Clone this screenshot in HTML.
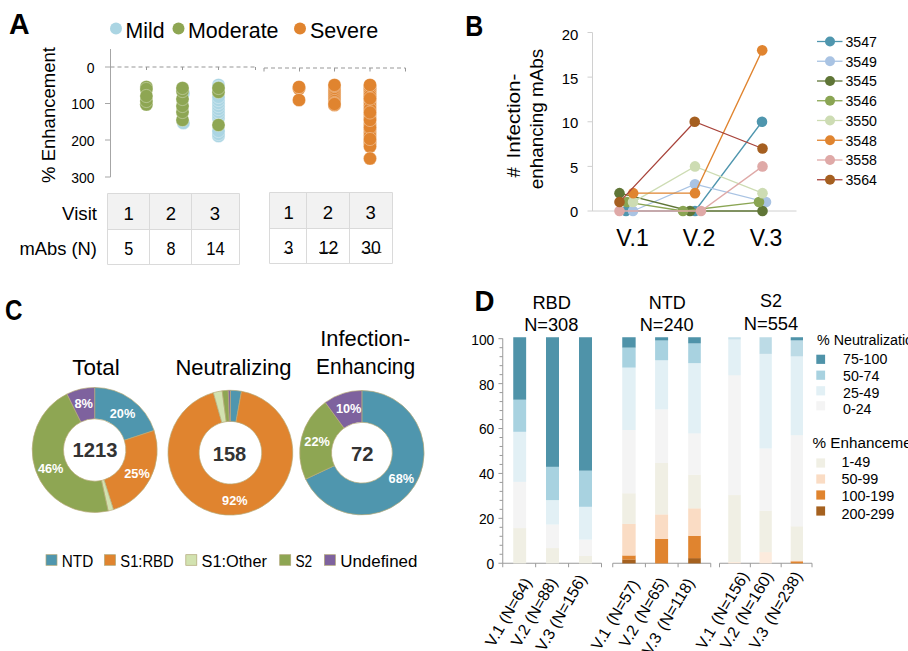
<!DOCTYPE html>
<html><head><meta charset="utf-8"><title>Figure</title>
<style>
html,body{margin:0;padding:0;background:#fff;}
svg{display:block;font-family:'Liberation Sans', sans-serif;}
</style></head>
<body>
<svg width="908" height="651" viewBox="0 0 908 651">
<rect width="908" height="651" fill="#fff"/>
<text x="9.0" y="34.4" font-size="29" text-anchor="start" font-weight="bold" textLength="20.6" lengthAdjust="spacingAndGlyphs">A</text>
<text x="465.3" y="36.2" font-size="29" text-anchor="start" font-weight="bold" textLength="18" lengthAdjust="spacingAndGlyphs">B</text>
<text x="5" y="320.2" font-size="29" text-anchor="start" font-weight="bold" textLength="17.5" lengthAdjust="spacingAndGlyphs">C</text>
<text x="474.5" y="311" font-size="29" text-anchor="start" font-weight="bold" textLength="20" lengthAdjust="spacingAndGlyphs">D</text>
<circle cx="116" cy="28.4" r="6" fill="#abd5e3"/>
<text x="125.6" y="37.6" font-size="21.6" text-anchor="start" textLength="39" lengthAdjust="spacingAndGlyphs">Mild</text>
<circle cx="178.5" cy="28.4" r="6" fill="#8ea653"/>
<text x="188" y="37.6" font-size="21.6" text-anchor="start" textLength="90.5" lengthAdjust="spacingAndGlyphs">Moderate</text>
<circle cx="300" cy="28.4" r="6" fill="#e0842f"/>
<text x="310" y="37.6" font-size="21.6" text-anchor="start" textLength="68.2" lengthAdjust="spacingAndGlyphs">Severe</text>
<text x="54.5" y="183" font-size="18.5" text-anchor="start" textLength="136" lengthAdjust="spacingAndGlyphs" transform="rotate(-90 54.5 183)">% Enhancement</text>
<path d="M110.5 49V177M105 67H110.5M105 103.5H110.5M105 140H110.5M105 177H110.5" stroke="#a6a6a6" stroke-width="1" fill="none"/>
<text x="94.6" y="72.8" font-size="15" text-anchor="end" textLength="7.8" lengthAdjust="spacingAndGlyphs">0</text>
<text x="94.6" y="109.3" font-size="15" text-anchor="end" textLength="23.3" lengthAdjust="spacingAndGlyphs">100</text>
<text x="94.6" y="145.8" font-size="15" text-anchor="end" textLength="23.3" lengthAdjust="spacingAndGlyphs">200</text>
<text x="94.6" y="182.8" font-size="15" text-anchor="end" textLength="23.3" lengthAdjust="spacingAndGlyphs">300</text>
<path d="M110.5 67H255.5" stroke="#979797" stroke-width="1" stroke-dasharray="4 3" fill="none"/>
<path d="M146.5 67v3M182.5 67v3M218.5 67v3M255.5 67v3" stroke="#979797" stroke-width="1" fill="none"/>
<path d="M264 68H405.5" stroke="#979797" stroke-width="1" stroke-dasharray="4 3" fill="none"/>
<path d="M264 68v3.5M299.5 68v3.5M334.5 68v3.5M370 68v3.5M405.5 68v3.5" stroke="#979797" stroke-width="1" fill="none"/>
<circle cx="146.4" cy="87" r="6.6" fill="#8ea653" stroke="#fff" stroke-width="0.6" stroke-opacity="0.55"/>
<circle cx="146.4" cy="89" r="6.6" fill="#8ea653" stroke="#fff" stroke-width="0.6" stroke-opacity="0.55"/>
<circle cx="146.4" cy="104.5" r="6.6" fill="#8ea653" stroke="#fff" stroke-width="0.6" stroke-opacity="0.55"/>
<circle cx="146.4" cy="101" r="6.6" fill="#8ea653" stroke="#fff" stroke-width="0.6" stroke-opacity="0.55"/>
<circle cx="146.4" cy="96" r="6.6" fill="#8ea653" stroke="#fff" stroke-width="0.6" stroke-opacity="0.55"/>
<circle cx="183.4" cy="93" r="6.6" fill="#abd5e3" stroke="#fff" stroke-width="0.6" stroke-opacity="0.55"/>
<circle cx="183.4" cy="123" r="6.6" fill="#abd5e3" stroke="#fff" stroke-width="0.6" stroke-opacity="0.55"/>
<circle cx="182.5" cy="120" r="6.6" fill="#8ea653" stroke="#fff" stroke-width="0.6" stroke-opacity="0.55"/>
<circle cx="182.5" cy="112" r="6.6" fill="#8ea653" stroke="#fff" stroke-width="0.6" stroke-opacity="0.55"/>
<circle cx="182.5" cy="106" r="6.6" fill="#8ea653" stroke="#fff" stroke-width="0.6" stroke-opacity="0.55"/>
<circle cx="182.5" cy="99" r="6.6" fill="#8ea653" stroke="#fff" stroke-width="0.6" stroke-opacity="0.55"/>
<circle cx="182.5" cy="91" r="6.6" fill="#8ea653" stroke="#fff" stroke-width="0.6" stroke-opacity="0.55"/>
<circle cx="182.5" cy="88" r="6.6" fill="#8ea653" stroke="#fff" stroke-width="0.6" stroke-opacity="0.55"/>
<circle cx="218.5" cy="85" r="6.6" fill="#abd5e3" stroke="#fff" stroke-width="0.6" stroke-opacity="0.55"/>
<circle cx="218.5" cy="87" r="6.6" fill="#abd5e3" stroke="#fff" stroke-width="0.6" stroke-opacity="0.55"/>
<circle cx="218.5" cy="136" r="6.6" fill="#abd5e3" stroke="#fff" stroke-width="0.6" stroke-opacity="0.55"/>
<circle cx="218.5" cy="134" r="6.6" fill="#abd5e3" stroke="#fff" stroke-width="0.6" stroke-opacity="0.55"/>
<circle cx="218.5" cy="131" r="6.6" fill="#abd5e3" stroke="#fff" stroke-width="0.6" stroke-opacity="0.55"/>
<circle cx="218.5" cy="118" r="6.6" fill="#abd5e3" stroke="#fff" stroke-width="0.6" stroke-opacity="0.55"/>
<circle cx="218.5" cy="115" r="6.6" fill="#abd5e3" stroke="#fff" stroke-width="0.6" stroke-opacity="0.55"/>
<circle cx="218.5" cy="112" r="6.6" fill="#abd5e3" stroke="#fff" stroke-width="0.6" stroke-opacity="0.55"/>
<circle cx="218.5" cy="109" r="6.6" fill="#abd5e3" stroke="#fff" stroke-width="0.6" stroke-opacity="0.55"/>
<circle cx="218.5" cy="106" r="6.6" fill="#abd5e3" stroke="#fff" stroke-width="0.6" stroke-opacity="0.55"/>
<circle cx="218.5" cy="103" r="6.6" fill="#abd5e3" stroke="#fff" stroke-width="0.6" stroke-opacity="0.55"/>
<circle cx="218.5" cy="100" r="6.6" fill="#abd5e3" stroke="#fff" stroke-width="0.6" stroke-opacity="0.55"/>
<circle cx="218.5" cy="97" r="6.6" fill="#abd5e3" stroke="#fff" stroke-width="0.6" stroke-opacity="0.55"/>
<circle cx="218.5" cy="92" r="6.6" fill="#8ea653" stroke="#fff" stroke-width="0.6" stroke-opacity="0.55"/>
<circle cx="218.5" cy="88" r="6.6" fill="#8ea653" stroke="#fff" stroke-width="0.6" stroke-opacity="0.55"/>
<circle cx="218.5" cy="125" r="6.6" fill="#8ea653" stroke="#fff" stroke-width="0.6" stroke-opacity="0.55"/>
<circle cx="299" cy="88.5" r="6.6" fill="#e0842f" stroke="#fff" stroke-width="0.6" stroke-opacity="0.55"/>
<circle cx="299" cy="87" r="6.6" fill="#e0842f" stroke="#fff" stroke-width="0.6" stroke-opacity="0.55"/>
<circle cx="299" cy="100" r="6.6" fill="#e0842f" stroke="#fff" stroke-width="0.6" stroke-opacity="0.55"/>
<circle cx="334.5" cy="87" r="6.6" fill="#e0842f" stroke="#fff" stroke-width="0.6" stroke-opacity="0.55"/>
<circle cx="334.5" cy="89" r="6.6" fill="#e0842f" stroke="#fff" stroke-width="0.6" stroke-opacity="0.55"/>
<circle cx="334.5" cy="91" r="6.6" fill="#e0842f" stroke="#fff" stroke-width="0.6" stroke-opacity="0.55"/>
<circle cx="334.5" cy="93" r="6.6" fill="#e0842f" stroke="#fff" stroke-width="0.6" stroke-opacity="0.55"/>
<circle cx="334.5" cy="95" r="6.6" fill="#e0842f" stroke="#fff" stroke-width="0.6" stroke-opacity="0.55"/>
<circle cx="334.5" cy="97" r="6.6" fill="#e0842f" stroke="#fff" stroke-width="0.6" stroke-opacity="0.55"/>
<circle cx="334.5" cy="99" r="6.6" fill="#e0842f" stroke="#fff" stroke-width="0.6" stroke-opacity="0.55"/>
<circle cx="334.5" cy="101" r="6.6" fill="#e0842f" stroke="#fff" stroke-width="0.6" stroke-opacity="0.55"/>
<circle cx="334.5" cy="103" r="6.6" fill="#e0842f" stroke="#fff" stroke-width="0.6" stroke-opacity="0.55"/>
<circle cx="334.5" cy="105" r="6.6" fill="#e0842f" stroke="#fff" stroke-width="0.6" stroke-opacity="0.55"/>
<circle cx="334.5" cy="104" r="6.6" fill="#e0842f" stroke="#fff" stroke-width="0.6" stroke-opacity="0.55"/>
<circle cx="334.5" cy="85" r="6.6" fill="#e0842f" stroke="#fff" stroke-width="0.6" stroke-opacity="0.55"/>
<circle cx="370" cy="86" r="6.6" fill="#e0842f" stroke="#fff" stroke-width="0.6" stroke-opacity="0.55"/>
<circle cx="370" cy="87" r="6.6" fill="#e0842f" stroke="#fff" stroke-width="0.6" stroke-opacity="0.55"/>
<circle cx="370" cy="88" r="6.6" fill="#e0842f" stroke="#fff" stroke-width="0.6" stroke-opacity="0.55"/>
<circle cx="370" cy="89" r="6.6" fill="#e0842f" stroke="#fff" stroke-width="0.6" stroke-opacity="0.55"/>
<circle cx="370" cy="90" r="6.6" fill="#e0842f" stroke="#fff" stroke-width="0.6" stroke-opacity="0.55"/>
<circle cx="370" cy="92" r="6.6" fill="#e0842f" stroke="#fff" stroke-width="0.6" stroke-opacity="0.55"/>
<circle cx="370" cy="94" r="6.6" fill="#e0842f" stroke="#fff" stroke-width="0.6" stroke-opacity="0.55"/>
<circle cx="370" cy="96" r="6.6" fill="#e0842f" stroke="#fff" stroke-width="0.6" stroke-opacity="0.55"/>
<circle cx="370" cy="100" r="6.6" fill="#e0842f" stroke="#fff" stroke-width="0.6" stroke-opacity="0.55"/>
<circle cx="370" cy="103" r="6.6" fill="#e0842f" stroke="#fff" stroke-width="0.6" stroke-opacity="0.55"/>
<circle cx="370" cy="106" r="6.6" fill="#e0842f" stroke="#fff" stroke-width="0.6" stroke-opacity="0.55"/>
<circle cx="370" cy="109" r="6.6" fill="#e0842f" stroke="#fff" stroke-width="0.6" stroke-opacity="0.55"/>
<circle cx="370" cy="115" r="6.6" fill="#e0842f" stroke="#fff" stroke-width="0.6" stroke-opacity="0.55"/>
<circle cx="370" cy="118" r="6.6" fill="#e0842f" stroke="#fff" stroke-width="0.6" stroke-opacity="0.55"/>
<circle cx="370" cy="124" r="6.6" fill="#e0842f" stroke="#fff" stroke-width="0.6" stroke-opacity="0.55"/>
<circle cx="370" cy="130" r="6.6" fill="#e0842f" stroke="#fff" stroke-width="0.6" stroke-opacity="0.55"/>
<circle cx="370" cy="133" r="6.6" fill="#e0842f" stroke="#fff" stroke-width="0.6" stroke-opacity="0.55"/>
<circle cx="370" cy="136" r="6.6" fill="#e0842f" stroke="#fff" stroke-width="0.6" stroke-opacity="0.55"/>
<circle cx="370" cy="141" r="6.6" fill="#e0842f" stroke="#fff" stroke-width="0.6" stroke-opacity="0.55"/>
<circle cx="370" cy="143" r="6.6" fill="#e0842f" stroke="#fff" stroke-width="0.6" stroke-opacity="0.55"/>
<circle cx="370" cy="146.5" r="6.6" fill="#e0842f" stroke="#fff" stroke-width="0.6" stroke-opacity="0.55"/>
<circle cx="370" cy="127.5" r="6.6" fill="#e0842f" stroke="#fff" stroke-width="0.6" stroke-opacity="0.55"/>
<circle cx="370" cy="120" r="6.6" fill="#e0842f" stroke="#fff" stroke-width="0.6" stroke-opacity="0.55"/>
<circle cx="370" cy="112.5" r="6.6" fill="#e0842f" stroke="#fff" stroke-width="0.6" stroke-opacity="0.55"/>
<circle cx="370" cy="139" r="6.6" fill="#e0842f" stroke="#fff" stroke-width="0.6" stroke-opacity="0.55"/>
<circle cx="370" cy="98.5" r="6.6" fill="#e0842f" stroke="#fff" stroke-width="0.6" stroke-opacity="0.55"/>
<circle cx="370" cy="85" r="6.6" fill="#e0842f" stroke="#fff" stroke-width="0.6" stroke-opacity="0.55"/>
<circle cx="370" cy="158.5" r="6.6" fill="#e0842f" stroke="#fff" stroke-width="0.6" stroke-opacity="0.55"/>
<rect x="107.5" y="193.5" width="132" height="36" fill="#f2f2f2"/>
<path d="M107.5 193.5H239.5V264.5H107.5ZM107.5 229.5H239.5M149.5 193.5V264.5M191.5 193.5V264.5" stroke="#dadada" stroke-width="1" fill="none"/>
<rect x="269.5" y="192.5" width="123" height="36" fill="#f2f2f2"/>
<path d="M269.5 192.5H392.5V263.5H269.5ZM269.5 228.5H392.5M306.5 192.5V263.5M349.5 192.5V263.5" stroke="#dadada" stroke-width="1" fill="none"/>
<text x="97" y="220.3" font-size="18.5" text-anchor="end" textLength="35" lengthAdjust="spacingAndGlyphs">Visit</text>
<text x="97" y="255.3" font-size="18.5" text-anchor="end" textLength="77.5" lengthAdjust="spacingAndGlyphs">mAbs (N)</text>
<text x="128.7" y="220.3" font-size="18.5" text-anchor="middle">1</text>
<text x="171" y="220.3" font-size="18.5" text-anchor="middle">2</text>
<text x="215" y="220.3" font-size="18.5" text-anchor="middle">3</text>
<text x="128.7" y="255.3" font-size="18.5" text-anchor="middle" textLength="9" lengthAdjust="spacingAndGlyphs">5</text>
<text x="171" y="255.3" font-size="18.5" text-anchor="middle" textLength="9" lengthAdjust="spacingAndGlyphs">8</text>
<text x="215.5" y="255.3" font-size="18.5" text-anchor="middle" textLength="18.5" lengthAdjust="spacingAndGlyphs">14</text>
<text x="288.7" y="219" font-size="18.5" text-anchor="middle">1</text>
<text x="328" y="219" font-size="18.5" text-anchor="middle">2</text>
<text x="370.7" y="219" font-size="18.5" text-anchor="middle">3</text>
<text x="288.7" y="254" font-size="18.5" text-anchor="middle" textLength="9" lengthAdjust="spacingAndGlyphs">3</text>
<text x="328.5" y="254" font-size="18.5" text-anchor="middle" textLength="19.5" lengthAdjust="spacingAndGlyphs">12</text>
<text x="371" y="254" font-size="18.5" text-anchor="middle" textLength="19.5" lengthAdjust="spacingAndGlyphs">30</text>
<path d="M283.8 252.4H293M319 252.4H338.4M361.6 252.4H381.4" stroke="#1a1a1a" stroke-width="0.9" fill="none"/>
<path d="M592.5 32.5V211M587.5 211H796.5" stroke="#d0d0d0" stroke-width="1" fill="none"/>
<path d="M587.5 166.38H592.5M587.5 121.75H592.5M587.5 77.12H592.5M587.5 32.5H592.5" stroke="#d0d0d0" stroke-width="1" fill="none"/>
<text x="578.3" y="217.4" font-size="14.8" text-anchor="end" textLength="8.2" lengthAdjust="spacingAndGlyphs">0</text>
<text x="578.3" y="172.88" font-size="14.8" text-anchor="end" textLength="8.2" lengthAdjust="spacingAndGlyphs">5</text>
<text x="578.3" y="127.95" font-size="14.8" text-anchor="end" textLength="16.6" lengthAdjust="spacingAndGlyphs">10</text>
<text x="578.3" y="84.42" font-size="14.8" text-anchor="end" textLength="16.6" lengthAdjust="spacingAndGlyphs">15</text>
<text x="578.3" y="39.5" font-size="14.8" text-anchor="end" textLength="16.6" lengthAdjust="spacingAndGlyphs">20</text>
<text x="519.8" y="177.4" font-size="18.5" text-anchor="start" transform="rotate(-90 519.8 177.4)">#</text>
<text x="519.8" y="158.5" font-size="18.5" text-anchor="start" textLength="85" lengthAdjust="spacingAndGlyphs" transform="rotate(-90 519.8 158.5)">Infection-</text>
<text x="543.3" y="189.3" font-size="18.5" text-anchor="start" textLength="140.5" lengthAdjust="spacingAndGlyphs" transform="rotate(-90 543.3 189.3)">enhancing mAbs</text>
<text x="632.5" y="246.3" font-size="23" text-anchor="middle">V.1</text>
<text x="699" y="246.3" font-size="23" text-anchor="middle">V.2</text>
<text x="766" y="246.3" font-size="23" text-anchor="middle">V.3</text>
<path d="M626 211.0L695 211.0L762 121.75" stroke="#4f96ae" stroke-width="1.3" fill="none"/>
<circle cx="626" cy="211.0" r="5.3" fill="#4f96ae"/>
<circle cx="695" cy="211.0" r="5.3" fill="#4f96ae"/>
<circle cx="762" cy="121.75" r="5.3" fill="#4f96ae"/>
<path d="M633 211.0L695 184.22L766 202.07" stroke="#a9c3e3" stroke-width="1.3" fill="none"/>
<circle cx="633" cy="211.0" r="5.3" fill="#a9c3e3"/>
<circle cx="695" cy="184.22" r="5.3" fill="#a9c3e3"/>
<circle cx="766" cy="202.07" r="5.3" fill="#a9c3e3"/>
<path d="M619.5 193.15L690 211.0L762.5 211.0" stroke="#5f7536" stroke-width="1.3" fill="none"/>
<circle cx="619.5" cy="193.15" r="5.3" fill="#5f7536"/>
<circle cx="690" cy="211.0" r="5.3" fill="#5f7536"/>
<circle cx="762.5" cy="211.0" r="5.3" fill="#5f7536"/>
<path d="M627 202.07L683 211.0L759 202.07" stroke="#8aa553" stroke-width="1.3" fill="none"/>
<circle cx="627" cy="202.07" r="5.3" fill="#8aa553"/>
<circle cx="683" cy="211.0" r="5.3" fill="#8aa553"/>
<circle cx="759" cy="202.07" r="5.3" fill="#8aa553"/>
<path d="M633 202.07L695 166.38L762.5 193.15" stroke="#cddcb3" stroke-width="1.3" fill="none"/>
<circle cx="633" cy="202.07" r="5.3" fill="#cddcb3"/>
<circle cx="695" cy="166.38" r="5.3" fill="#cddcb3"/>
<circle cx="762.5" cy="193.15" r="5.3" fill="#cddcb3"/>
<path d="M633.2 193.15L695 193.15L762.2 50.35" stroke="#e0842f" stroke-width="1.3" fill="none"/>
<circle cx="633.2" cy="193.15" r="5.3" fill="#e0842f"/>
<circle cx="695" cy="193.15" r="5.3" fill="#e0842f"/>
<circle cx="762.2" cy="50.35" r="5.3" fill="#e0842f"/>
<path d="M619.5 211.0L701 211.0L762.5 166.38" stroke="#dfa9a7" stroke-width="1.3" fill="none"/>
<circle cx="619.5" cy="211.0" r="5.3" fill="#dfa9a7"/>
<circle cx="701" cy="211.0" r="5.3" fill="#dfa9a7"/>
<circle cx="762.5" cy="166.38" r="5.3" fill="#dfa9a7"/>
<path d="M619.5 202.07L694.7 121.75L762.5 148.52" stroke="#a8433a" stroke-width="1.3" fill="none"/>
<circle cx="619.5" cy="202.07" r="5.3" fill="#a55f20"/>
<circle cx="694.7" cy="121.75" r="5.3" fill="#a55f20"/>
<circle cx="762.5" cy="148.52" r="5.3" fill="#a55f20"/>
<path d="M817 41.5H842.5" stroke="#4f96ae" stroke-width="1.3"/>
<circle cx="830" cy="41.5" r="5" fill="#4f96ae"/>
<text x="845.5" y="46.8" font-size="15" text-anchor="start" textLength="31.5" lengthAdjust="spacingAndGlyphs">3547</text>
<path d="M817 61.25H842.5" stroke="#a9c3e3" stroke-width="1.3"/>
<circle cx="830" cy="61.25" r="5" fill="#a9c3e3"/>
<text x="845.5" y="66.55" font-size="15" text-anchor="start" textLength="31.5" lengthAdjust="spacingAndGlyphs">3549</text>
<path d="M817 81.0H842.5" stroke="#5f7536" stroke-width="1.3"/>
<circle cx="830" cy="81.0" r="5" fill="#5f7536"/>
<text x="845.5" y="86.3" font-size="15" text-anchor="start" textLength="31.5" lengthAdjust="spacingAndGlyphs">3545</text>
<path d="M817 100.75H842.5" stroke="#8aa553" stroke-width="1.3"/>
<circle cx="830" cy="100.75" r="5" fill="#8aa553"/>
<text x="845.5" y="106.05" font-size="15" text-anchor="start" textLength="31.5" lengthAdjust="spacingAndGlyphs">3546</text>
<path d="M817 120.5H842.5" stroke="#cddcb3" stroke-width="1.3"/>
<circle cx="830" cy="120.5" r="5" fill="#cddcb3"/>
<text x="845.5" y="125.8" font-size="15" text-anchor="start" textLength="31.5" lengthAdjust="spacingAndGlyphs">3550</text>
<path d="M817 140.25H842.5" stroke="#e0842f" stroke-width="1.3"/>
<circle cx="830" cy="140.25" r="5" fill="#e0842f"/>
<text x="845.5" y="145.55" font-size="15" text-anchor="start" textLength="31.5" lengthAdjust="spacingAndGlyphs">3548</text>
<path d="M817 160.0H842.5" stroke="#dfa9a7" stroke-width="1.3"/>
<circle cx="830" cy="160.0" r="5" fill="#dfa9a7"/>
<text x="845.5" y="165.3" font-size="15" text-anchor="start" textLength="31.5" lengthAdjust="spacingAndGlyphs">3558</text>
<path d="M817 179.75H842.5" stroke="#a8433a" stroke-width="1.3"/>
<circle cx="830" cy="179.75" r="5" fill="#a55f20"/>
<text x="845.5" y="185.05" font-size="15" text-anchor="start" textLength="31.5" lengthAdjust="spacingAndGlyphs">3564</text>
<path d="M94.70 387.50A62.5 62.5 0 0 1 154.08 430.50L124.34 440.27A31.2 31.2 0 0 0 94.70 418.80Z" fill="#4f96ae" stroke="#b8aa78" stroke-width="0.7"/>
<path d="M154.08 430.50A62.5 62.5 0 0 1 113.45 509.62L104.06 479.76A31.2 31.2 0 0 0 124.34 440.27Z" fill="#e0842f" stroke="#b8aa78" stroke-width="0.7"/>
<path d="M113.45 509.62A62.5 62.5 0 0 1 108.14 511.04L101.41 480.47A31.2 31.2 0 0 0 104.06 479.76Z" fill="#d2e2b0" stroke="#b8aa78" stroke-width="0.7"/>
<path d="M108.14 511.04A62.5 62.5 0 0 1 67.03 393.96L80.89 422.02A31.2 31.2 0 0 0 101.41 480.47Z" fill="#8ea653" stroke="#b8aa78" stroke-width="0.7"/>
<path d="M67.03 393.96A62.5 62.5 0 0 1 94.70 387.50L94.70 418.80A31.2 31.2 0 0 0 80.89 422.02Z" fill="#7e629e" stroke="#b8aa78" stroke-width="0.7"/>
<path d="M230.40 390.30A62.4 62.4 0 0 1 241.51 391.30L235.98 421.90A31.3 31.3 0 0 0 230.40 421.40Z" fill="#4f96ae" stroke="#b8aa78" stroke-width="0.7"/>
<path d="M241.51 391.30A62.4 62.4 0 1 1 213.37 392.67L221.86 422.59A31.3 31.3 0 1 0 235.98 421.90Z" fill="#e0842f" stroke="#b8aa78" stroke-width="0.7"/>
<path d="M213.37 392.67A62.4 62.4 0 0 1 222.19 390.84L226.28 421.67A31.3 31.3 0 0 0 221.86 422.59Z" fill="#d2e2b0" stroke="#b8aa78" stroke-width="0.7"/>
<path d="M222.19 390.84A62.4 62.4 0 0 1 228.24 390.34L229.32 421.42A31.3 31.3 0 0 0 226.28 421.67Z" fill="#8ea653" stroke="#b8aa78" stroke-width="0.7"/>
<path d="M228.24 390.34A62.4 62.4 0 0 1 230.40 390.30L230.40 421.40A31.3 31.3 0 0 0 229.32 421.42Z" fill="#7e629e" stroke="#b8aa78" stroke-width="0.7"/>
<path d="M361.90 390.50A62.2 62.2 0 1 1 305.62 479.18L334.39 465.64A30.4 30.4 0 1 0 361.90 422.30Z" fill="#4f96ae" stroke="#b8aa78" stroke-width="0.7"/>
<path d="M305.62 479.18A62.2 62.2 0 0 1 325.34 402.38L344.03 428.11A30.4 30.4 0 0 0 334.39 465.64Z" fill="#8ea653" stroke="#b8aa78" stroke-width="0.7"/>
<path d="M325.34 402.38A62.2 62.2 0 0 1 361.90 390.50L361.90 422.30A30.4 30.4 0 0 0 344.03 428.11Z" fill="#7e629e" stroke="#b8aa78" stroke-width="0.7"/>
<text x="95" y="457.2" font-size="21" text-anchor="middle" font-weight="bold" fill="#333" textLength="45" lengthAdjust="spacingAndGlyphs">1213</text>
<text x="229.5" y="460.6" font-size="21" text-anchor="middle" font-weight="bold" fill="#333" textLength="33.5" lengthAdjust="spacingAndGlyphs">158</text>
<text x="362.3" y="460.6" font-size="21" text-anchor="middle" font-weight="bold" fill="#333" textLength="22.5" lengthAdjust="spacingAndGlyphs">72</text>
<text x="83.7" y="408.09999999999997" font-size="12.5" text-anchor="middle" font-weight="bold" fill="#fff" textLength="18.5" lengthAdjust="spacingAndGlyphs">8%</text>
<text x="122.5" y="417.59999999999997" font-size="12.5" text-anchor="middle" font-weight="bold" fill="#fff" textLength="25.5" lengthAdjust="spacingAndGlyphs">20%</text>
<text x="137" y="477.59999999999997" font-size="12.5" text-anchor="middle" font-weight="bold" fill="#fff" textLength="25.5" lengthAdjust="spacingAndGlyphs">25%</text>
<text x="50.7" y="472.59999999999997" font-size="12.5" text-anchor="middle" font-weight="bold" fill="#fff" textLength="25.5" lengthAdjust="spacingAndGlyphs">46%</text>
<text x="234.8" y="505.0" font-size="12.5" text-anchor="middle" font-weight="bold" fill="#fff" textLength="25.5" lengthAdjust="spacingAndGlyphs">92%</text>
<text x="348.7" y="413.09999999999997" font-size="12.5" text-anchor="middle" font-weight="bold" fill="#fff" textLength="25.5" lengthAdjust="spacingAndGlyphs">10%</text>
<text x="317.1" y="446.29999999999995" font-size="12.5" text-anchor="middle" font-weight="bold" fill="#fff" textLength="25.5" lengthAdjust="spacingAndGlyphs">22%</text>
<text x="401.3" y="483.09999999999997" font-size="12.5" text-anchor="middle" font-weight="bold" fill="#fff" textLength="25.5" lengthAdjust="spacingAndGlyphs">68%</text>
<text x="96" y="375" font-size="21.5" text-anchor="middle" textLength="47.5" lengthAdjust="spacingAndGlyphs">Total</text>
<text x="233.5" y="374.8" font-size="21.5" text-anchor="middle" textLength="116" lengthAdjust="spacingAndGlyphs">Neutralizing</text>
<text x="365.2" y="345.8" font-size="21.5" text-anchor="middle" textLength="90" lengthAdjust="spacingAndGlyphs">Infection-</text>
<text x="365.6" y="374" font-size="21.5" text-anchor="middle" textLength="99" lengthAdjust="spacingAndGlyphs">Enhancing</text>
<rect x="46" y="554.7" width="11" height="10.6" fill="#4f96ae" stroke="#b0a676" stroke-width="0.7"/>
<text x="61.8" y="566.7" font-size="16.8" text-anchor="start" textLength="31.5" lengthAdjust="spacingAndGlyphs">NTD</text>
<rect x="104.5" y="554.7" width="11" height="10.6" fill="#e0842f" stroke="#b0a676" stroke-width="0.7"/>
<text x="120.3" y="566.7" font-size="16.8" text-anchor="start" textLength="53.3" lengthAdjust="spacingAndGlyphs">S1:RBD</text>
<rect x="185.8" y="554.7" width="11" height="10.6" fill="#d2e2b0" stroke="#b0a676" stroke-width="0.7"/>
<text x="201.6" y="566.7" font-size="16.8" text-anchor="start" textLength="65.4" lengthAdjust="spacingAndGlyphs">S1:Other</text>
<rect x="279.7" y="554.7" width="11" height="10.6" fill="#8ea653" stroke="#b0a676" stroke-width="0.7"/>
<text x="295.5" y="566.7" font-size="16.8" text-anchor="start" textLength="16.7" lengthAdjust="spacingAndGlyphs">S2</text>
<rect x="324.4" y="554.7" width="11" height="10.6" fill="#7e629e" stroke="#b0a676" stroke-width="0.7"/>
<text x="340.2" y="566.7" font-size="16.8" text-anchor="start" textLength="77.2" lengthAdjust="spacingAndGlyphs">Undefined</text>
<path d="M502.75 338.5V563.25M498.45 563.25H502.75M499.55 554.27H502.75M499.55 545.29H502.75M499.55 536.3H502.75M499.55 527.32H502.75M498.45 518.34H502.75M499.55 509.36H502.75M499.55 500.38H502.75M499.55 491.39H502.75M499.55 482.41H502.75M498.45 473.43H502.75M499.55 464.45H502.75M499.55 455.47H502.75M499.55 446.48H502.75M499.55 437.5H502.75M498.45 428.52H502.75M499.55 419.54H502.75M499.55 410.56H502.75M499.55 401.57H502.75M499.55 392.59H502.75M498.45 383.61H502.75M499.55 374.63H502.75M499.55 365.65H502.75M499.55 356.66H502.75M499.55 347.68H502.75M498.45 338.7H502.75" stroke="#9a9a9a" stroke-width="1" fill="none"/>
<text x="494.3" y="569.15" font-size="13.8" text-anchor="end">0</text>
<text x="494.3" y="524.24" font-size="13.8" text-anchor="end">20</text>
<text x="494.3" y="479.33" font-size="13.8" text-anchor="end">40</text>
<text x="494.3" y="434.41999999999996" font-size="13.8" text-anchor="end">60</text>
<text x="494.3" y="389.51" font-size="13.8" text-anchor="end">80</text>
<text x="494.3" y="344.59999999999997" font-size="13.8" text-anchor="end">100</text>
<path d="M502.75 563.25H601.5M502.75 563.25v4M535.67 563.25v4M568.58 563.25v4M601.50 563.25v4" stroke="#9a9a9a" stroke-width="1" fill="none"/>
<path d="M612.75 563.25H710.75M612.75 563.25v4M645.42 563.25v4M678.08 563.25v4M710.75 563.25v4" stroke="#9a9a9a" stroke-width="1" fill="none"/>
<path d="M719.5 563.25H812M719.50 563.25v4M750.33 563.25v4M781.17 563.25v4M812.00 563.25v4" stroke="#9a9a9a" stroke-width="1" fill="none"/>
<rect x="513.25" y="528.0" width="12.9" height="35.4" fill="#f0efe4"/>
<rect x="513.25" y="481.74" width="12.9" height="46.41" fill="#f4f4f4"/>
<rect x="513.25" y="431.66" width="12.9" height="50.23" fill="#e2f0f5"/>
<rect x="513.25" y="399.55" width="12.9" height="32.26" fill="#a8d2e0"/>
<rect x="513.25" y="337.25" width="12.9" height="62.45" fill="#4f93a9"/>
<rect x="546" y="547.98" width="13" height="15.42" fill="#f0efe4"/>
<rect x="546" y="524.4" width="13" height="23.73" fill="#f4f4f4"/>
<rect x="546" y="499.93" width="13" height="24.62" fill="#e2f0f5"/>
<rect x="546" y="466.69" width="13" height="33.39" fill="#a8d2e0"/>
<rect x="546" y="337.25" width="13" height="129.59" fill="#4f93a9"/>
<rect x="579" y="555.84" width="13" height="7.56" fill="#f0efe4"/>
<rect x="579" y="539.45" width="13" height="16.54" fill="#f4f4f4"/>
<rect x="579" y="506.66" width="13" height="32.94" fill="#e2f0f5"/>
<rect x="579" y="470.51" width="13" height="36.3" fill="#a8d2e0"/>
<rect x="579" y="337.25" width="13" height="133.41" fill="#4f93a9"/>
<rect x="622.25" y="559.43" width="13.4" height="3.97" fill="#a5611f"/>
<rect x="622.25" y="555.39" width="13.4" height="4.19" fill="#e0842f"/>
<rect x="622.25" y="523.73" width="13.4" height="31.81" fill="#fadcc4"/>
<rect x="622.25" y="493.19" width="13.4" height="30.69" fill="#f0efe4"/>
<rect x="622.25" y="429.87" width="13.4" height="63.47" fill="#f4f4f4"/>
<rect x="622.25" y="367.44" width="13.4" height="62.58" fill="#e2f0f5"/>
<rect x="622.25" y="347.46" width="13.4" height="20.13" fill="#a8d2e0"/>
<rect x="622.25" y="337.25" width="13.4" height="10.36" fill="#4f93a9"/>
<rect x="655.1" y="538.77" width="13" height="24.63" fill="#e0842f"/>
<rect x="655.1" y="514.3" width="13" height="24.62" fill="#fadcc4"/>
<rect x="655.1" y="462.88" width="13" height="51.57" fill="#f0efe4"/>
<rect x="655.1" y="409.21" width="13" height="53.82" fill="#f4f4f4"/>
<rect x="655.1" y="360.03" width="13" height="49.33" fill="#e2f0f5"/>
<rect x="655.1" y="340.27" width="13" height="19.91" fill="#a8d2e0"/>
<rect x="655.1" y="337.25" width="13" height="3.17" fill="#4f93a9"/>
<rect x="688.2" y="558.09" width="12.6" height="5.31" fill="#a5611f"/>
<rect x="688.2" y="535.74" width="12.6" height="22.5" fill="#e0842f"/>
<rect x="688.2" y="508.24" width="12.6" height="27.65" fill="#fadcc4"/>
<rect x="688.2" y="474.55" width="12.6" height="33.84" fill="#f0efe4"/>
<rect x="688.2" y="433.24" width="12.6" height="41.46" fill="#f4f4f4"/>
<rect x="688.2" y="362.95" width="12.6" height="70.44" fill="#e2f0f5"/>
<rect x="688.2" y="343.19" width="12.6" height="19.91" fill="#a8d2e0"/>
<rect x="688.2" y="337.25" width="12.6" height="6.09" fill="#4f93a9"/>
<rect x="728.25" y="561.9" width="12.5" height="1.5" fill="#fcebdd"/>
<rect x="728.25" y="494.99" width="12.5" height="67.06" fill="#f0efe4"/>
<rect x="728.25" y="375.08" width="12.5" height="120.06" fill="#f4f4f4"/>
<rect x="728.25" y="339.37" width="12.5" height="35.86" fill="#e2f0f5"/>
<rect x="728.25" y="337.25" width="12.5" height="2.27" fill="#c9e2ec"/>
<rect x="759.5" y="552.02" width="12.3" height="11.38" fill="#fcebdd"/>
<rect x="759.5" y="510.71" width="12.3" height="41.46" fill="#f0efe4"/>
<rect x="759.5" y="448.28" width="12.3" height="62.58" fill="#f4f4f4"/>
<rect x="759.5" y="353.74" width="12.3" height="94.69" fill="#e2f0f5"/>
<rect x="759.5" y="337.25" width="12.3" height="16.64" fill="#bcdbe6"/>
<rect x="790.7" y="561.23" width="12.3" height="2.17" fill="#e0842f"/>
<rect x="790.7" y="560.33" width="12.3" height="1.05" fill="#fadcc4"/>
<rect x="790.7" y="526.2" width="12.3" height="34.28" fill="#f0efe4"/>
<rect x="790.7" y="435.03" width="12.3" height="91.32" fill="#f4f4f4"/>
<rect x="790.7" y="356.21" width="12.3" height="78.97" fill="#e2f0f5"/>
<rect x="790.7" y="340.16" width="12.3" height="16.2" fill="#bcdbe6"/>
<rect x="790.7" y="337.25" width="12.3" height="3.06" fill="#4f93a9"/>
<text x="551.7" y="308.8" font-size="18" text-anchor="middle" textLength="38.6" lengthAdjust="spacingAndGlyphs">RBD</text>
<text x="551.3" y="330.5" font-size="18" text-anchor="middle" textLength="54.2" lengthAdjust="spacingAndGlyphs">N=308</text>
<text x="667.2" y="308.8" font-size="18" text-anchor="middle" textLength="37" lengthAdjust="spacingAndGlyphs">NTD</text>
<text x="666.7" y="330.5" font-size="18" text-anchor="middle" textLength="54" lengthAdjust="spacingAndGlyphs">N=240</text>
<text x="771" y="307" font-size="18" text-anchor="middle" textLength="22" lengthAdjust="spacingAndGlyphs">S2</text>
<text x="771" y="329.5" font-size="18" text-anchor="middle" textLength="54.5" lengthAdjust="spacingAndGlyphs">N=554</text>
<text x="817" y="344.5" font-size="14" text-anchor="start" textLength="104" lengthAdjust="spacingAndGlyphs">% Neutralization</text>
<rect x="816.3" y="354.7" width="8.8" height="9.2" fill="#4f93a9"/>
<text x="843.1" y="364.3" font-size="14.2" text-anchor="start">75-100</text>
<rect x="816.3" y="370.59999999999997" width="8.8" height="9.2" fill="#a8d2e0"/>
<text x="843.1" y="380.5" font-size="14.2" text-anchor="start">50-74</text>
<rect x="816.3" y="386.2" width="8.8" height="9.2" fill="#e2f0f5"/>
<text x="843.1" y="397.9" font-size="14.2" text-anchor="start">25-49</text>
<rect x="816.3" y="401.2" width="8.8" height="9.2" fill="#f4f4f4"/>
<text x="843.1" y="414" font-size="14.2" text-anchor="start">0-24</text>
<text x="812.6" y="448.3" font-size="14" text-anchor="start" textLength="111.8" lengthAdjust="spacingAndGlyphs">% Enhancement</text>
<rect x="816.3" y="458.4" width="8.8" height="9.2" fill="#f0efe4"/>
<text x="841.5" y="467.4" font-size="14.4" text-anchor="start">1-49</text>
<rect x="816.3" y="474.4" width="8.8" height="9.2" fill="#fadcc4"/>
<text x="841.5" y="484" font-size="14.4" text-anchor="start">50-99</text>
<rect x="816.3" y="490.4" width="8.8" height="9.2" fill="#e0842f"/>
<text x="841.5" y="500.5" font-size="14.4" text-anchor="start">100-199</text>
<rect x="816.3" y="506.4" width="8.8" height="9.2" fill="#a5611f"/>
<text x="841.5" y="518.5" font-size="14.4" text-anchor="start">200-299</text>
<text x="532.1" y="581.9" font-size="16" text-anchor="end" transform="rotate(-60 532.1 581.9)" word-spacing="0">V.1 (N=64)</text>
<text x="557.9" y="581.9" font-size="16" text-anchor="end" transform="rotate(-60 557.9 581.9)" word-spacing="0">V.2 (N=88)</text>
<text x="587.2" y="578.7" font-size="16" text-anchor="end" transform="rotate(-60 587.2 578.7)" word-spacing="0">V.3 (N=156)</text>
<text x="640" y="584" font-size="16" text-anchor="end" transform="rotate(-59 640 584)" word-spacing="2">V.1 (N=57)</text>
<text x="668" y="581.6" font-size="16" text-anchor="end" transform="rotate(-59 668 581.6)" word-spacing="2">V.2 (N=65)</text>
<text x="695" y="582.5" font-size="16" text-anchor="end" transform="rotate(-59 695 582.5)" word-spacing="2">V.3 (N=118)</text>
<text x="749.6" y="575.7" font-size="16" text-anchor="end" transform="rotate(-59 749.6 575.7)" word-spacing="2">V.1 (N=156)</text>
<text x="773.6" y="575.7" font-size="16" text-anchor="end" transform="rotate(-59 773.6 575.7)" word-spacing="2">V.2 (N=160)</text>
<text x="802.7" y="575.7" font-size="16" text-anchor="end" transform="rotate(-59 802.7 575.7)" word-spacing="2">V.3 (N=238)</text>
</svg>
</body></html>
